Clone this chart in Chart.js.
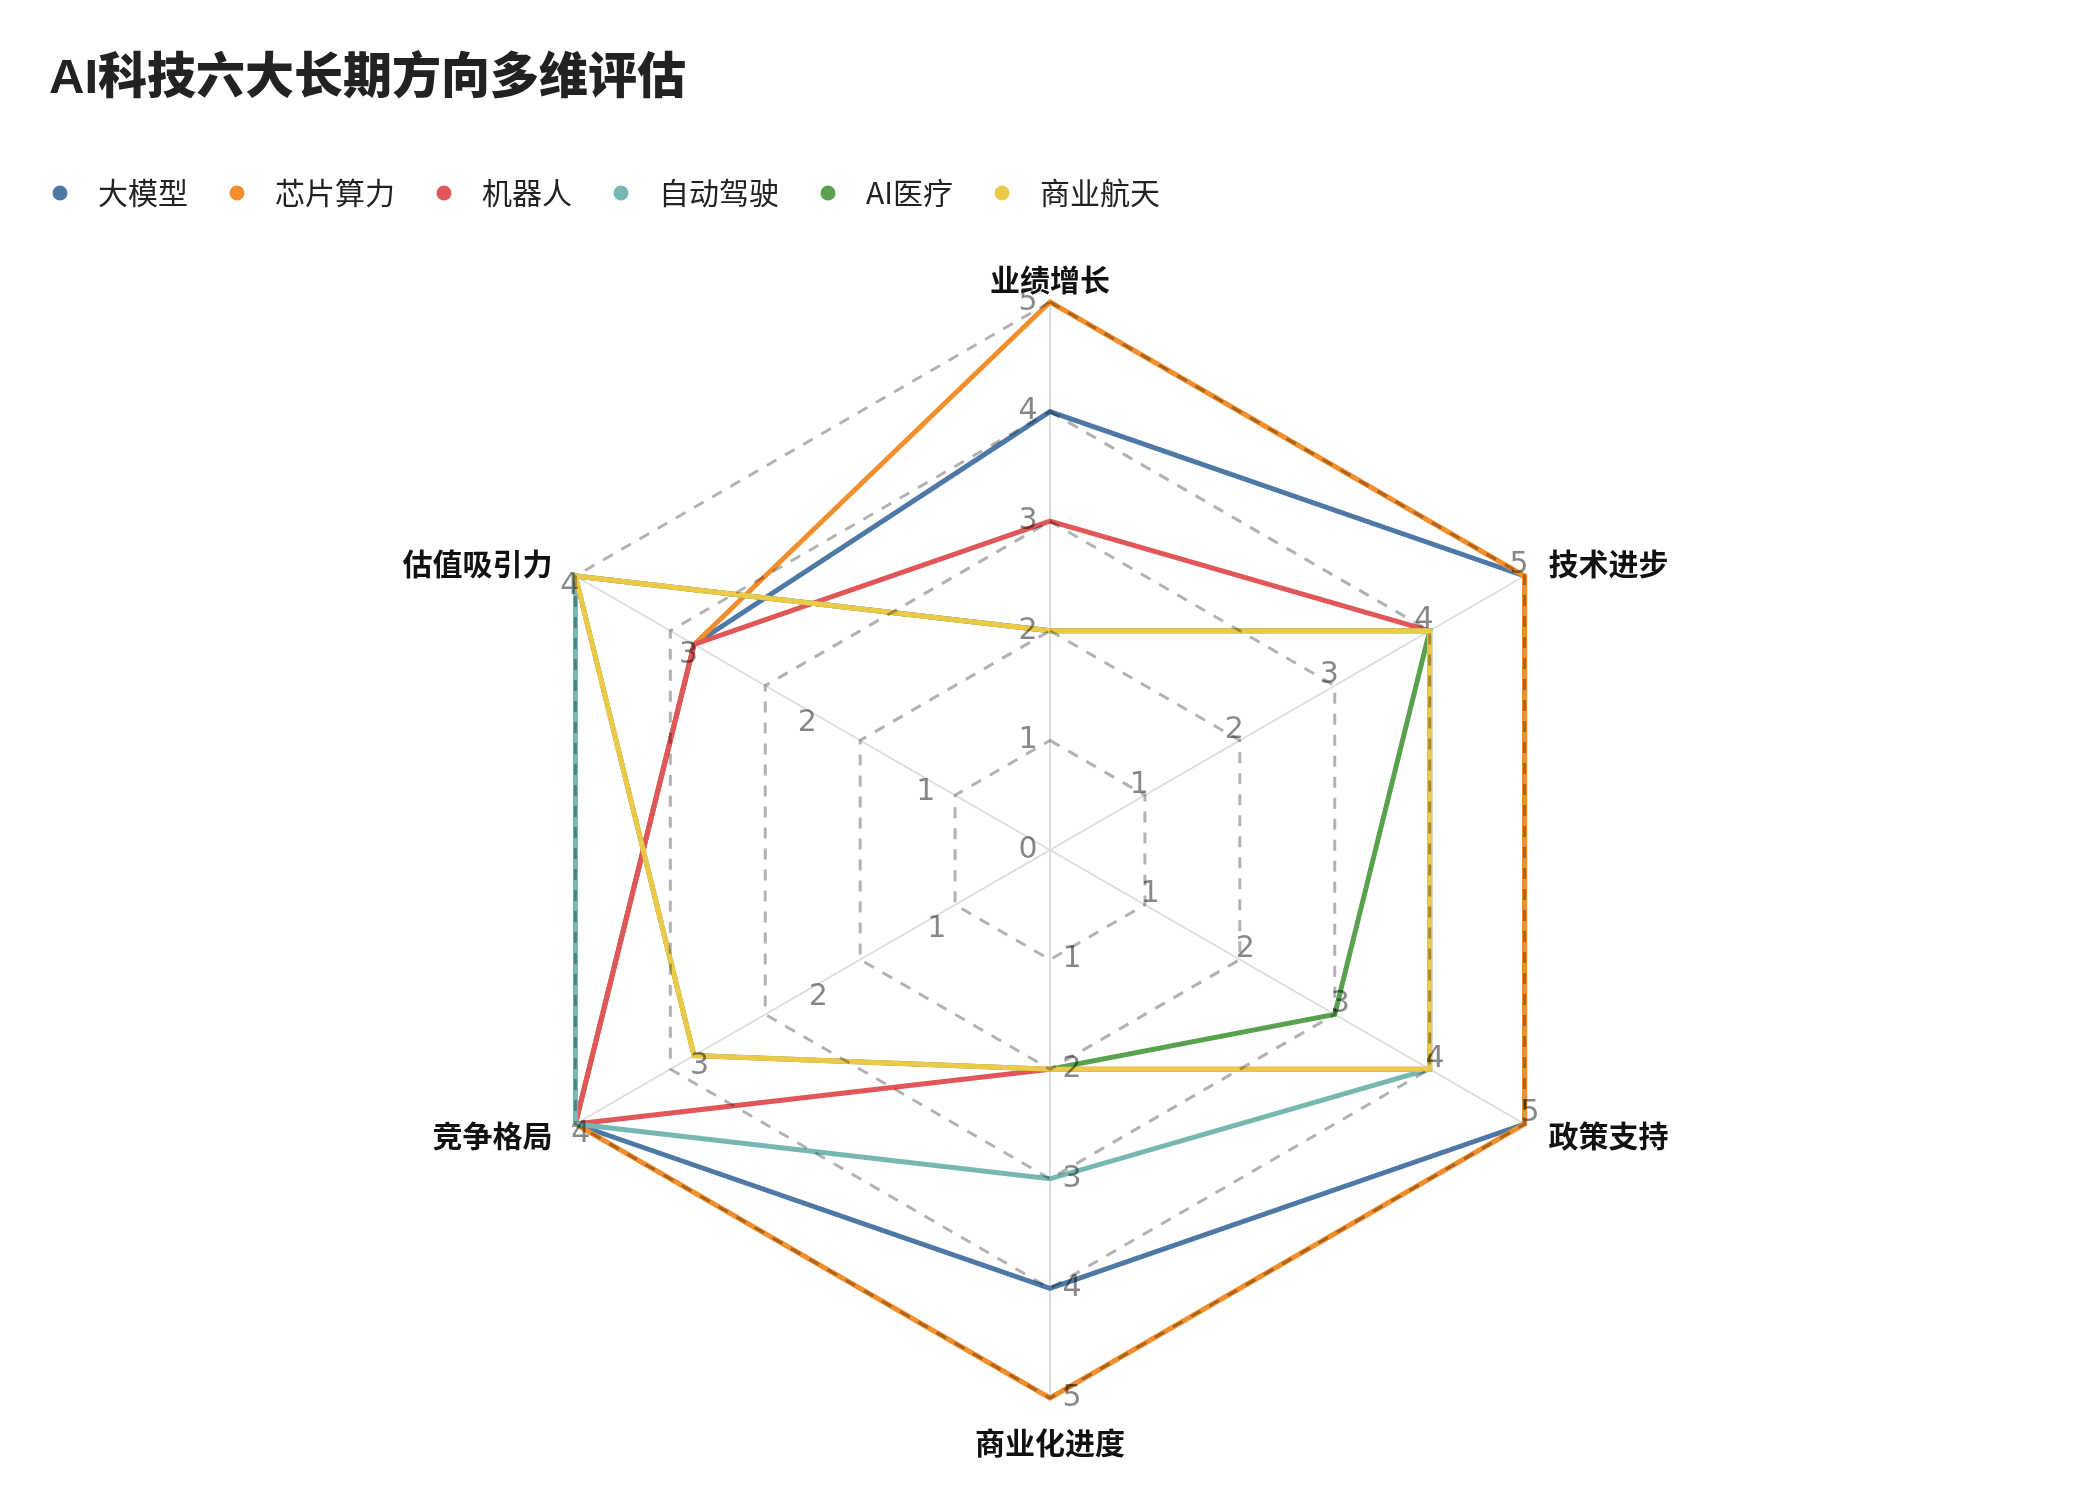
<!DOCTYPE html>
<html>
<head>
<meta charset="utf-8">
<script src="https://cdn.jsdelivr.net/npm/chart.js@4.4.0/dist/chart.umd.min.js"></script>
<style>
  body { margin: 0; background: #fff; }
  #wrap { width: 2100px; height: 1500px; }
</style>
</head>
<body>
<div id="wrap"><canvas id="radar"></canvas></div>
<script>
const chartTitle = 'AI科技六大长期方向多维评估';
const dimensions = ['业绩增长', '技术进步', '政策支持', '商业化进度', '竞争格局', '估值吸引力'];
const seriesNames = ['大模型', '芯片算力', '机器人', '自动驾驶', 'AI医疗', '商业航天'];
const colors = ['#4e79a7', '#f28e2b', '#e15759', '#76b7b2', '#59a14f', '#edc948'];

// scores, in dimension order
const bigModel  = [4, 5, 5, 4, 4, 3];
const chips     = [5, 5, 5, 5, 4, 3];
const robots    = [3, 4, 4, 2, 4, 3];
const autoDrive = [2, 4, 4, 3, 4, 4];
const aiMedical = [2, 4, 3, 2, 3, 4];
const spaceTech = [2, 4, 4, 2, 3, 4];

const series = [bigModel, chips, robots, autoDrive, aiMedical, spaceTech];

// every axis gets its own max (the largest score on it), drawn on a shared 0..5 radius
const axisMax = dimensions.map((_, i) => Math.max(...series.map(s => s[i])));
const ringMax = 5;
const toRing = vals => vals.map((v, i) => v / axisMax[i] * ringMax);

function dot(color) {
  const c = document.createElement('canvas');
  c.width = 16; c.height = 16;
  const g = c.getContext('2d');
  g.fillStyle = color;
  g.beginPath();
  g.arc(8, 8, 7.5, 0, Math.PI * 2);
  g.fill();
  return c;
}
const dots = colors.map(dot);

const overlay = {
  id: 'overlay',
  afterDatasetsDraw(chart) {
    // dashed rings go over the lines
    const r = chart.scales.r;
    const ctx = chart.ctx;
    ctx.save();
    ctx.strokeStyle = 'rgba(0,0,0,0.3)';
    ctx.lineWidth = 3;
    ctx.setLineDash([11, 10]);
    r.ticks.forEach(t => {
      if (t.value === 0) return;
      ctx.beginPath();
      dimensions.forEach((_, i) => {
        const p = r.getPointPositionForValue(i, t.value);
        if (i === 0) ctx.moveTo(p.x, p.y); else ctx.lineTo(p.x, p.y);
      });
      ctx.closePath();
      ctx.stroke();
    });
    ctx.restore();
  },
  afterDraw(chart) {
    const r = chart.scales.r;
    const ctx = chart.ctx;
    ctx.save();

    // per-axis tick labels
    ctx.font = '30px "DejaVu Sans"';
    ctx.fillStyle = 'rgba(0,0,0,0.47)';
    ctx.textAlign = 'center';
    ctx.textBaseline = 'middle';
    dimensions.forEach((_, i) => {
      const outer = r.getPointPosition(i, r.drawingArea);
      const dx = Math.cos(outer.angle), dy = Math.sin(outer.angle);
      const px = dy, py = -dx;
      for (let k = i === 0 ? 0 : 1; k <= axisMax[i]; k++) {
        const p = r.getPointPositionForValue(i, k / axisMax[i] * ringMax);
        ctx.fillText(String(k), p.x + 22 * px * Math.abs(px), p.y + 12 * py);
      }
    });

    // axis names
    ctx.font = 'bold 30px "Noto Sans CJK SC"';
    ctx.fillStyle = '#111';
    dimensions.forEach((name, i) => {
      const p = r.getPointPosition(i, r.drawingArea);
      const dx = Math.cos(p.angle), dy = Math.sin(p.angle);
      if (Math.abs(dx) < 0.01) {
        ctx.textAlign = 'center';
        ctx.fillText(name, p.x, p.y + (dy < 0 ? -22 : 45));
      } else {
        ctx.textAlign = dx > 0 ? 'left' : 'right';
        ctx.fillText(name, p.x + (dx > 0 ? 24 : -23), p.y + dy * 24);
      }
    });

    // title
    ctx.font = '900 49px "Liberation Sans", "Noto Sans CJK SC"';
    ctx.fillStyle = '#222';
    ctx.textAlign = 'left';
    ctx.fillText(chartTitle, 49, 79);
    ctx.restore();
  }
};

Chart.defaults.font.family = '"Noto Sans CJK SC", "DejaVu Sans", sans-serif';

const n = seriesNames.length;

new Chart(document.getElementById('radar'), {
  type: 'radar',
  data: {
    labels: dimensions,
    datasets: seriesNames.map((name, k) => ({
      label: name,
      data: toRing(series[k]),
      borderColor: colors[k],
      backgroundColor: colors[k],
      borderWidth: 5,
      borderJoinStyle: 'miter',
      pointRadius: 0,
      pointHoverRadius: 0,
      fill: false,
      clip: false,
      order: n - 1 - k   // later series drawn on top
    }))
  },
  options: {
    responsive: true,
    maintainAspectRatio: false,
    animation: false,
    layout: { padding: { top: 152, left: 11, right: 10, bottom: 10 } },
    plugins: {
      title: { display: false },
      tooltip: { enabled: false },
      legend: {
        position: 'top',
        align: 'start',
        labels: {
          usePointStyle: true,
          pointStyleWidth: 46,
          boxHeight: 15,
          padding: 26,
          color: '#222',
          font: { size: 30 },
          sort: (a, b) => a.datasetIndex - b.datasetIndex,
          generateLabels(chart) {
            const items = Chart.defaults.plugins.legend.labels.generateLabels(chart);
            items.forEach(it => { it.pointStyle = dots[it.datasetIndex]; });
            return items;
          }
        }
      }
    },
    scales: {
      r: {
        min: 0,
        max: ringMax,
        ticks: { display: false, stepSize: 1 },
        grid: { display: false },
        angleLines: { color: '#dddddd', lineWidth: 2 },
        pointLabels: { display: false },
        afterFit(scale) {
          scale.xCenter = 1050;
          scale.yCenter = 850;
          scale.drawingArea = 548;
        }
      }
    }
  },
  plugins: [overlay]
});
</script>
</body>
</html>
